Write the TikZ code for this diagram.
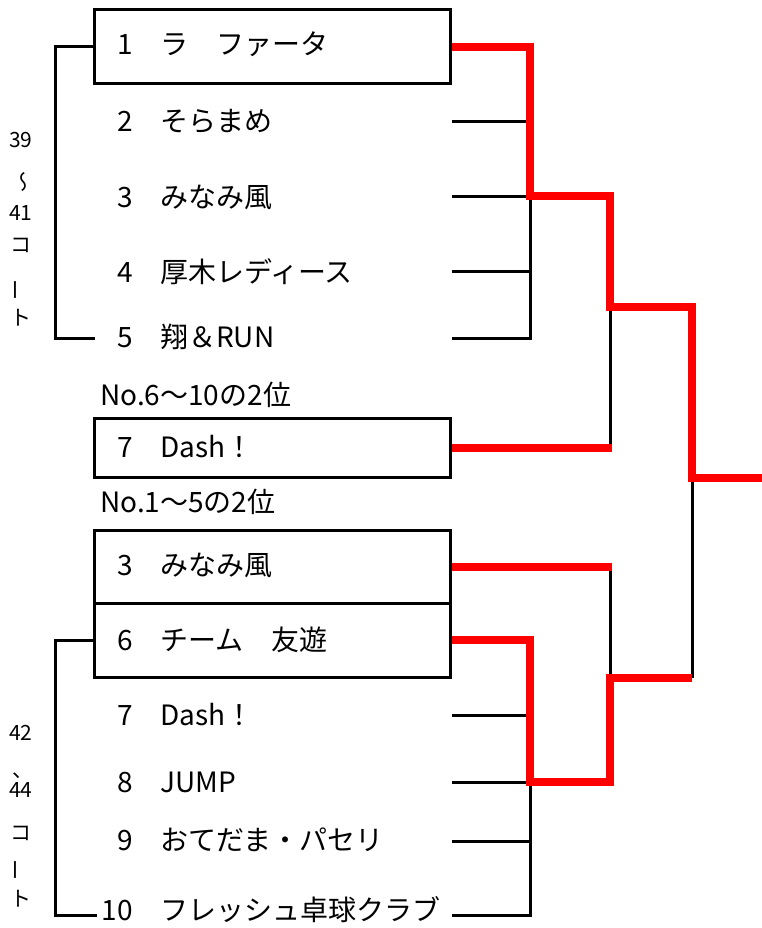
\documentclass[tikz,border=0pt]{standalone}
\usepackage{fontspec}
\setmainfont{Noto Sans CJK JP}
\usepackage{tikz}

\tikzset{
  teamno/.style={anchor=base east,inner sep=0pt,font=\fontsize{28}{32}\selectfont},
  teamname/.style={anchor=base west,inner sep=0pt,font=\fontsize{28}{32}\selectfont},
  entrybox/.style={draw,line width=3pt,minimum width=356pt,inner sep=0pt},
  court/.style={inner sep=0pt,font=\fontsize{21}{24}\selectfont},
  wire/.style={line width=3pt},
  win/.style={draw=red,line width=8pt},
}

\begin{document}
\begin{tikzpicture}[x=1pt,y=-1pt]
  \useasboundingbox (0,0) rectangle (762,928);
  % 绘制方框
  \node[entrybox,minimum height=74pt] (b1) at (272,47) {};
  \node[entrybox,minimum height=59pt] (b7) at (272,447.5) {};
  \node[entrybox,minimum height=73pt] (b3) at (272,566.5) {};
  \node[entrybox,minimum height=74pt] (b6) at (272,640) {};
  % 上段 1~5
  \foreach \k/\t/\y in {1/ラ　ファータ/55,2/そらまめ/132,3/みなみ風/207,4/厚木レディース/282,5/翔＆RUN/347}{
    \node[teamno] (na\k) at (133,\y) {\k};
    \node[teamname] (ta\k) at (160,\y) {\t};
  }
  % 各组2位
  \node[teamname] (h1) at (100,405) {No.6～10の2位};
  \node[teamno] (nb7) at (133,457) {7};
  \node[teamname] (tb7) at (160,457) {Dash！};
  \node[teamname] (h2) at (100,512) {No.1～5の2位};
  % 下段 6~10
  \foreach \k/\t/\y in {3/みなみ風/575,6/チーム　友遊/650,7/Dash！/725,8/JUMP/792,9/おてだま・パセリ/850,10/フレッシュ卓球クラブ/920}{
    \node[teamno] (nc\k) at (133,\y) {\k};
    \node[teamname] (tc\k) at (160,\y) {\t};
  }
  % 左侧コート
  \node[court] (ca1) at (21,140) {39};
  \node[court,rotate=-90] (ca2) at (21,182) {\reflectbox{～}};
  \node[court] (ca3) at (21,213) {41};
  \node[court] (ca4) at (21,245) {コ};
  \node[court,rotate=90] (ca5) at (19,290) {ー};
  \node[court] (ca6) at (21,318) {ト};
  \node[court] (cc1) at (21,733) {42};
  \node[court] (cc2) at (23,776) {、};
  \node[court] (cc3) at (21,790) {44};
  \node[court] (cc4) at (21,833) {コ};
  \node[court,rotate=90] (cc5) at (19,870) {ー};
  \node[court] (cc6) at (21,899) {ト};
  % 线的端点
  \foreach \k/\y in {2/122,3/196,4/271,5/338}
    \coordinate (ra\k) at (452,\y);
  \foreach \k/\y in {7/715,8/782,9/841,10/915}
    \coordinate (rc\k) at (452,\y);
  \coordinate (la5) at (95,338);
  \coordinate (lc10) at (97,915);
  \coordinate (qa) at (530,338);
  \coordinate (qb) at (610,307);
  \coordinate (qc) at (692,678);
  \coordinate (qd) at (530,915);
  \coordinate (qe) at (610,782);
  \coordinate (champ) at (762,478);
  % 黑线
  \draw[wire] (b1.west) -| (55,338) -- (la5);
  \draw[wire] (b6.west) -| (55,915) -- (lc10);
  \draw[wire] (b1.east) -| (qa) -- (ra5);
  \foreach \k in {2,3,4}
    \draw[wire] (ra\k) -- (ra\k -| qa);
  \draw[wire] (ra3 -| qa) -| (qb) |- (b7.east);
  \draw[wire] (qb) -| (qc);
  \draw[wire] (b3.east) -| (qe) -- (qe -| qd);
  \draw[wire] (b6.east) -| (qd) -- (rc10);
  \foreach \k in {7,8,9}
    \draw[wire] (rc\k) -- (rc\k -| qd);
  % 红线
  \draw[win] (b1.east) -| (ra3 -| qa) -| (qb) -| (champ -| qc) -- (champ);
  \draw[win,shorten >=-2pt] (b7.east) -- (b7.east -| qb);
  \draw[win,shorten >=-2pt] (b3.east) -- (b3.east -| qe);
  \draw[win] (b6.east) -| (rc8 -| qd) -| (qc -| qe) -- (qc);
\end{tikzpicture}
\end{document}
